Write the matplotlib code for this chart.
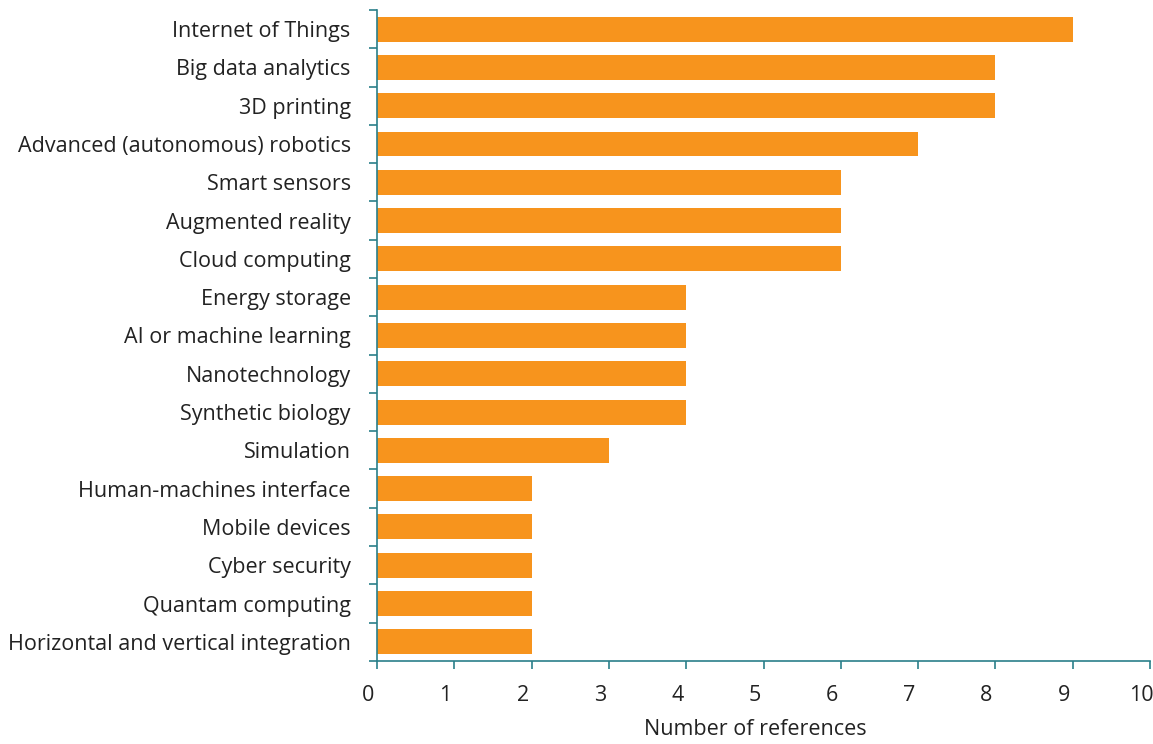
import numpy as np
import matplotlib.pyplot as plt
from matplotlib.transforms import ScaledTranslation

categories = ["Internet of Things", "Big data analytics", "3D printing",
              "Advanced (autonomous) robotics", "Smart sensors", "Augmented reality",
              "Cloud computing", "Energy storage", "AI or machine learning",
              "Nanotechnology", "Synthetic biology", "Simulation",
              "Human-machines interface", "Mobile devices", "Cyber security",
              "Quantam computing", "Horizontal and vertical integration"]
values = [9, 8, 8, 7, 6, 6, 6, 4, 4, 4, 4, 3, 2, 2, 2, 2, 2]

axis_col = '#2a7f8a'
plt.rcParams['font.family'] = ['Open Sans', 'DejaVu Sans']
fs = 15.5

fig = plt.figure(figsize=(11.53, 7.44), dpi=100)
ax = fig.add_axes([0.327, 0.1116, 0.6704, 0.875])

y = np.arange(len(categories))
ax.barh(y, values, height=0.65, color='#F7941D')

ax.set_ylim(len(categories) - 0.5, -0.5)
ax.set_xlim(0, 10)
ax.set_xticks(np.arange(0, 11, 1))
ax.set_yticks(y)
ax.set_yticklabels(categories, fontsize=fs, color='#222222')
ax.set_yticks(np.arange(-0.5, len(categories), 1), minor=True)
ax.tick_params(axis='y', which='major', length=0, pad=19)
ax.tick_params(axis='y', which='minor', length=6, color=axis_col, width=1.2)
ax.tick_params(axis='x', length=6, color=axis_col, width=1.2, labelsize=fs,
               labelcolor='#222222', pad=11)

# x tick labels sit a bit left of their ticks in the original
shift = ScaledTranslation(-9 / 100, 0, fig.dpi_scale_trans)
for lbl in ax.get_xticklabels():
    lbl.set_transform(lbl.get_transform() + shift)

for s in ['top', 'right']:
    ax.spines[s].set_visible(False)
for s in ['left', 'bottom']:
    ax.spines[s].set_color(axis_col)
    ax.spines[s].set_linewidth(1.2)

xl = ax.set_xlabel('Number of references', fontsize=fs, color='#222222', labelpad=10)
xl.set_x(0.49)

fig.savefig('out.png', dpi=100)
